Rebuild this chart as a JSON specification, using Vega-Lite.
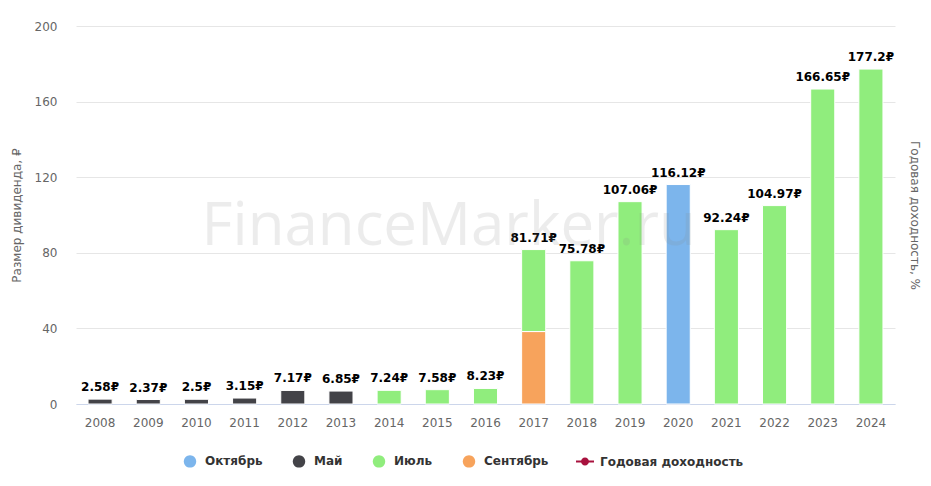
{
  "$schema": "https://vega.github.io/schema/vega-lite/v6.json",
  "width": 819,
  "height": 378,
  "autosize": {"type": "none"},
  "padding": {"left": 76, "top": 26, "right": 36, "bottom": 82},
  "background": "#ffffff",
  "config": {
    "view": {"stroke": null},
    "font": "DejaVu Sans",
    "axis": {
      "labelFont": "DejaVu Sans",
      "labelFontSize": 12,
      "labelColor": "#666666",
      "titleFont": "DejaVu Sans",
      "titleFontSize": 12,
      "titleFontWeight": "normal",
      "titleColor": "#666666"
    }
  },
  "data": {
    "values": [
      {"year": "2008", "month": "Май", "value": 2.58, "ord": 1},
      {"year": "2009", "month": "Май", "value": 2.37, "ord": 1},
      {"year": "2010", "month": "Май", "value": 2.5, "ord": 1},
      {"year": "2011", "month": "Май", "value": 3.15, "ord": 1},
      {"year": "2012", "month": "Май", "value": 7.17, "ord": 1},
      {"year": "2013", "month": "Май", "value": 6.85, "ord": 1},
      {"year": "2014", "month": "Июль", "value": 7.24, "ord": 1},
      {"year": "2015", "month": "Июль", "value": 7.58, "ord": 1},
      {"year": "2016", "month": "Июль", "value": 8.23, "ord": 1},
      {"year": "2017", "month": "Сентябрь", "value": 38.33, "ord": 0},
      {"year": "2017", "month": "Июль", "value": 43.38, "ord": 1},
      {"year": "2018", "month": "Июль", "value": 75.78, "ord": 1},
      {"year": "2019", "month": "Июль", "value": 107.06, "ord": 1},
      {"year": "2020", "month": "Октябрь", "value": 116.12, "ord": 1},
      {"year": "2021", "month": "Июль", "value": 92.24, "ord": 1},
      {"year": "2022", "month": "Июль", "value": 104.97, "ord": 1},
      {"year": "2023", "month": "Июль", "value": 166.65, "ord": 1},
      {"year": "2024", "month": "Июль", "value": 177.2, "ord": 1}
    ]
  },
  "layer": [
    {
      "layer": [
        {
          "mark": {"type": "bar", "stroke": "#ffffff", "strokeWidth": 1},
          "encoding": {
            "x": {
              "field": "year",
              "type": "ordinal",
              "scale": {"paddingInner": 0.5, "paddingOuter": 0.25},
              "axis": {
                "title": null,
                "labelAngle": 0,
                "ticks": false,
                "domainColor": "#ccd6eb",
                "labelPadding": 13
              }
            },
            "y": {
              "field": "value",
              "type": "quantitative",
              "aggregate": "sum",
              "stack": "zero",
              "scale": {"domain": [0, 200], "nice": false},
              "axis": {
                "title": "Размер дивиденда, ₽",
                "values": [0, 40, 80, 120, 160, 200],
                "gridColor": "#e6e6e6",
                "domain": false,
                "ticks": false,
                "labelPadding": 19,
                "titlePadding": 11
              }
            },
            "color": {
              "field": "month",
              "type": "nominal",
              "scale": {
                "domain": ["Октябрь", "Май", "Июль", "Сентябрь", "Годовая доходность"],
                "range": ["#7cb5ec", "#434348", "#90ed7d", "#f7a35c", "#a8123e"]
              },
              "legend": {
                "title": null,
                "orient": "none",
                "direction": "horizontal",
                "legendX": 104,
                "legendY": 425,
                "symbolSize": 400,
                "symbolType": {"expr": "datum.value === 'Годовая доходность' ? 'M-0.9,-0.1H0.9V0.1H-0.9Z M0.4,0A0.4,0.4 0 1,1 -0.4,0A0.4,0.4 0 1,1 0.4,0Z' : 'M0.62,0A0.62,0.62 0 1,1 -0.62,0A0.62,0.62 0 1,1 0.62,0Z'"},
                "symbolStrokeWidth": 0,
                "labelOffset": 5,
                "columnPadding": 26,
                "labelFont": "DejaVu Sans",
                "labelFontSize": 12,
                "labelFontWeight": "bold",
                "labelColor": "#333333"
              }
            },
            "order": {"field": "ord", "type": "quantitative"}
          }
        },
        {
          "transform": [
            {"aggregate": [{"op": "sum", "field": "value", "as": "total"}], "groupby": ["year"]},
            {"calculate": "format(datum.total, '.2~f') + '₽'", "as": "label"}
          ],
          "mark": {
            "type": "text",
            "baseline": "bottom",
            "dy": -5,
            "fontSize": 12,
            "fontWeight": "bold",
            "font": "DejaVu Sans",
            "color": "#000000"
          },
          "encoding": {
            "x": {"field": "year", "type": "ordinal"},
            "y": {"field": "total", "type": "quantitative"},
            "text": {"field": "label"}
          }
        }
      ]
    },
    {
      "mark": {"type": "tick", "opacity": 0},
      "encoding": {
        "x": {"field": "year", "type": "ordinal"},
        "y": {
          "field": "value",
          "type": "quantitative",
          "scale": {"domain": [0, 200], "nice": false},
          "axis": {
            "orient": "right",
            "title": "Годовая доходность, %",
            "labels": false,
            "ticks": false,
            "domain": false,
            "grid": false,
            "titlePadding": 12
          }
        }
      }
    },
    {
      "data": {"values": [{"t": "FinanceMarker.ru"}]},
      "mark": {
        "type": "text",
        "font": "Open Sans",
        "fontSize": 60,
        "fill": "#888888",
        "opacity": 0.15,
        "align": "center",
        "baseline": "alphabetic",
        "x": {"expr": "width * 0.455"},
        "y": {"expr": "height * 0.579"}
      },
      "encoding": {"text": {"field": "t"}}
    }
  ],
  "resolve": {"scale": {"y": "independent"}}
}
